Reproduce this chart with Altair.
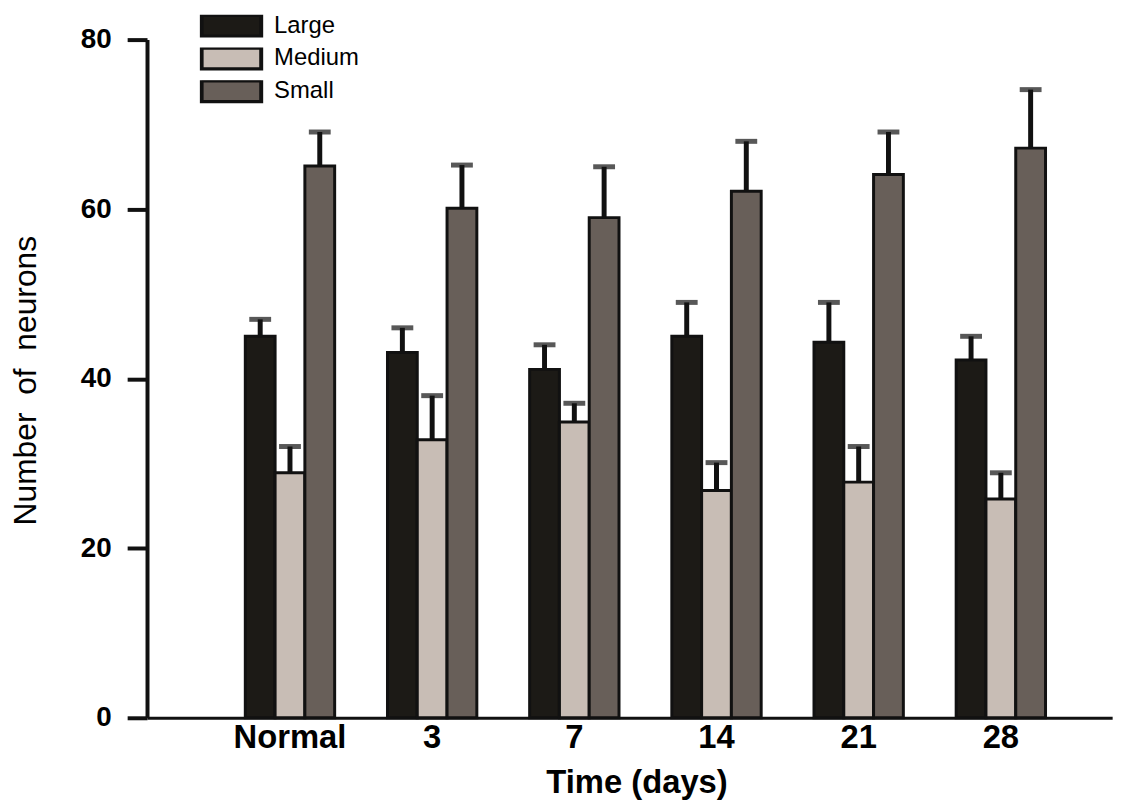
import altair as alt
import pandas as pd

categories = ["Normal", "3", "7", "14", "21", "28"]
series = ["Large", "Medium", "Small"]
colors = ["#1c1a16", "#c8bdb5", "#685f59"]

large_mean = [45.0, 43.1, 41.1, 45.0, 44.3, 42.2]
large_err = [2.0, 2.9, 2.9, 4.0, 4.7, 2.8]
medium_mean = [28.9, 32.8, 34.9, 26.8, 27.8, 25.8]
medium_err = [3.1, 5.2, 2.2, 3.3, 4.2, 3.1]
small_mean = [65.1, 60.1, 59.0, 62.1, 64.1, 67.2]
small_err = [4.0, 5.1, 6.0, 5.9, 5.0, 6.9]

rows = []
for s, means, errs in zip(series, [large_mean, medium_mean, small_mean],
                          [large_err, medium_err, small_err]):
    for c, m, e in zip(categories, means, errs):
        rows.append({"time": c, "size": s, "mean": m, "upper": m + e})
df = pd.DataFrame(rows)

FONT = "Liberation Sans, Arial, sans-serif"

x_enc = alt.X(
    "time:N", sort=categories,
    scale=alt.Scale(paddingInner=0.3715, paddingOuter=0.58, align=0.596),
    axis=alt.Axis(
        title="Time (days)", labelAngle=0, ticks=False, grid=False,
        domainColor="#111", domainWidth=3,
        labelFont=FONT, labelFontSize=33, labelFontWeight="bold", labelColor="#000",
        labelPadding=4,
        titleFont=FONT, titleFontSize=33, titleFontWeight="bold", titleColor="#000",
        titleX=493, titleY=65, titleBaseline="middle", titleAlign="center",
    ),
)
xoff = alt.XOffset("size:N", sort=series, scale=alt.Scale(paddingInner=0, paddingOuter=0))

y_scale = alt.Scale(domain=[0, 80], nice=False)
y_axis = alt.Axis(
    title="Number\u00a0\u00a0of\u00a0\u00a0neurons", values=[0, 20, 40, 60, 80], grid=False,
    domainColor="#111", domainWidth=4, tickColor="#111", tickWidth=4, tickSize=20,
    labelFont=FONT, labelFontSize=28, labelFontWeight="bold", labelColor="#000",
    labelPadding=16,
    titleFont=FONT, titleFontSize=32, titleFontWeight="normal", titleColor="#000",
    titleX=-122, titleY=343, titleAngle=270, titleBaseline="middle", titleAlign="center",
)

base = alt.Chart(df).encode(x=x_enc, xOffset=xoff)

bars = base.mark_bar(stroke="#111", strokeWidth=3).encode(
    y=alt.Y("mean:Q", scale=y_scale, axis=y_axis),
    color=alt.Color(
        "size:N", sort=series,
        scale=alt.Scale(domain=series, range=colors),
        legend=alt.Legend(
            title=None, orient="none", legendX=53, legendY=-25,
            symbolType="M-1,-0.36L1,-0.36L1,0.36L-1,0.36Z", symbolSize=3600,
            symbolStrokeColor="#111", symbolStrokeWidth=4, symbolOpacity=1,
            clipHeight=22, rowPadding=9, labelOffset=11,
            labelFont=FONT, labelFontSize=24, labelColor="#000",
        ),
    ),
)

stems = base.mark_rule(color="#111", strokeWidth=5).encode(
    y=alt.Y("mean:Q", scale=y_scale, axis=y_axis), y2="upper:Q"
)
caps = base.mark_tick(color="#111", thickness=5, size=22).encode(
    y=alt.Y("upper:Q", scale=y_scale, axis=y_axis)
)

chart = (
    alt.layer(stems, caps, bars)
    .properties(
        width=972, height=683,
        autosize=alt.AutoSizeParams(type="none"),
        padding={"left": 140, "top": 29, "right": 22, "bottom": 85},
    )
    .configure_view(stroke="transparent", strokeWidth=0)
    .configure_axis(grid=False)
    .configure(background="white", style={"cell": {"stroke": "transparent", "strokeWidth": 0}})
)

chart.save("out.html", embed_options={"renderer": "svg", "actions": False})
